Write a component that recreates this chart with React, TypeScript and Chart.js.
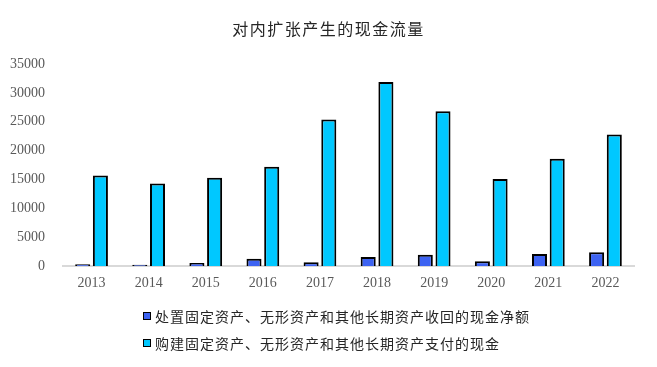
import React, { useEffect, useRef } from "react";
import { Chart, registerables } from "chart.js";

Chart.register(...registerables);

const title = "对内扩张产生的现金流量";
const categories = ["2013", "2014", "2015", "2016", "2017", "2018", "2019", "2020", "2021", "2022"];
const seriesNames = [
  "处置固定资产、无形资产和其他长期资产收回的现金净额",
  "购建固定资产、无形资产和其他长期资产支付的现金",
];
const disposalValues = [350, 250, 550, 1300, 700, 1600, 2000, 850, 2100, 2400];
const purchaseValues = [15700, 14300, 15300, 17200, 25400, 31900, 26800, 15100, 18600, 22800];
const colors = ["#3d63f2", "#00c8ff"];

export default function App() {
  const ref = useRef<HTMLCanvasElement | null>(null);
  useEffect(() => {
    if (!ref.current) return;
    const chart = new Chart(ref.current, {
      type: "bar",
      data: {
        labels: categories,
        datasets: [
          {
            label: seriesNames[0],
            data: disposalValues,
            backgroundColor: colors[0],
            borderColor: "#000",
            borderWidth: 2,
            borderSkipped: "bottom",
            categoryPercentage: 0.62,
            barPercentage: 0.85,
          },
          {
            label: seriesNames[1],
            data: purchaseValues,
            backgroundColor: colors[1],
            borderColor: "#000",
            borderWidth: 2,
            borderSkipped: "bottom",
            categoryPercentage: 0.62,
            barPercentage: 0.85,
          },
        ],
      },
      options: {
        responsive: false,
        animation: false,
        layout: { padding: { top: 64, left: 0, right: 23, bottom: 74 } },
        plugins: { legend: { display: false }, title: { display: false }, tooltip: { enabled: false } },
        scales: {
          x: {
            grid: { display: false },
            border: { display: true, color: "#d9d9d9", width: 2 },
            ticks: { color: "#595959", font: { family: "Liberation Serif", size: 14 }, padding: 1 },
          },
          y: {
            min: 0,
            max: 35000,
            grid: { display: false },
            border: { display: false },
            ticks: {
              stepSize: 5000,
              color: "#595959",
              font: { family: "Liberation Serif", size: 14 },
              padding: 10,
              callback: (v: any) => String(v),
            },
          },
        },
      },
    });
    return () => chart.destroy();
  }, []);

  const legendRow = (i: number, top: number) => (
    <div
      style={{
        position: "absolute",
        left: 143,
        top,
        display: "flex",
        alignItems: "center",
        fontFamily: "'Noto Sans CJK SC'",
        fontSize: 14,
        letterSpacing: 1,
        color: "#262626",
        lineHeight: "18px",
      }}
    >
      <span
        style={{
          display: "inline-block",
          width: 6,
          height: 6,
          background: colors[i],
          border: "1px solid #000",
          marginRight: 4,
        }}
      />
      {seriesNames[i]}
    </div>
  );

  return (
    <div style={{ position: "fixed", left: 0, top: 0, width: 657, height: 367, background: "#fff" }}>
      <canvas ref={ref} width={657} height={367} style={{ position: "absolute", left: 0, top: 0 }} />
      <div
        style={{
          position: "absolute",
          left: 0,
          width: 657,
          top: 17,
          textAlign: "center",
          fontFamily: "'Noto Sans CJK SC'",
          fontSize: 16,
          letterSpacing: 1.5,
          color: "#262626",
          lineHeight: "22px",
        }}
      >
        {title}
      </div>
      {legendRow(0, 307)}
      {legendRow(1, 334)}
    </div>
  );
}
